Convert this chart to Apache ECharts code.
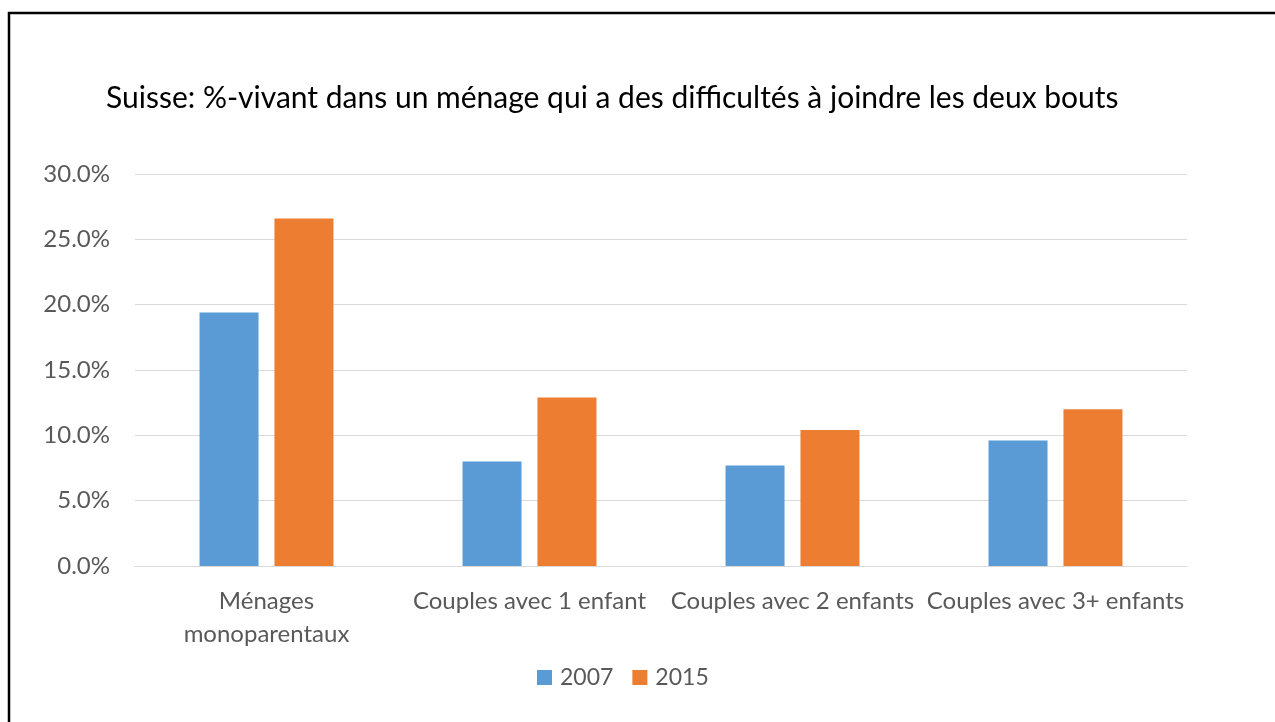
<!DOCTYPE html>
<html><head><meta charset="utf-8">
<script src="https://cdn.jsdelivr.net/npm/echarts@6/dist/echarts.min.js"></script>
<style>html,body{margin:0;padding:0;background:#fff}#c{width:1275px;height:722px}</style>
</head><body><div id="c"></div>
<script>
const titleText = 'Suisse: %-vivant dans un ménage qui a des difficultés à joindre les deux bouts';
const categories = ['Ménages\nmonoparentaux', 'Couples avec 1 enfant', 'Couples avec 2 enfants', 'Couples avec 3+ enfants'];
const seriesNames = ['2007', '2015'];
const values2007 = [19.4, 8.0, 7.7, 9.6];
const values2015 = [26.6, 12.9, 10.4, 12.0];
const yTicks = [0, 5, 10, 15, 20, 25, 30];

const FONT = 'Lato, "Open Sans", sans-serif';
const chart = echarts.init(document.getElementById('c'), null, {renderer: 'canvas'});
chart.setOption({
  animation: false,
  backgroundColor: '#fff',
  graphic: [{
    type: 'rect', shape: {x: 9, y: 13, width: 1275, height: 730},
    style: {fill: 'none', stroke: '#000', lineWidth: 2.5}, silent: true
  }],
  title: {
    text: titleText, left: 101, top: 78,
    textStyle: {fontFamily: FONT, fontSize: 30, fontWeight: 'normal', color: '#000'}
  },
  legend: {
    data: seriesNames, top: 661, left: 532, itemWidth: 15, itemHeight: 15, itemGap: 19,
    icon: 'rect',
    textStyle: {fontFamily: FONT, fontSize: 23, color: '#595959', padding: [0, 0, 0, 3]}
  },
  grid: {left: 135, right: 88, top: 174, bottom: 156},
  xAxis: {
    type: 'category', data: categories,
    axisLine: {lineStyle: {color: '#d9d9d9', width: 1}},
    axisTick: {show: false},
    axisLabel: {fontFamily: FONT, fontSize: 24, color: '#595959', margin: 19, lineHeight: 33, interval: 0}
  },
  yAxis: {
    type: 'value', min: yTicks[0], max: yTicks[yTicks.length - 1], interval: 5,
    axisLine: {show: false}, axisTick: {show: false},
    splitLine: {lineStyle: {color: '#d9d9d9', width: 1}},
    axisLabel: {fontFamily: FONT, fontSize: 24, color: '#595959', margin: 25,
      formatter: v => v.toFixed(1) + '%'}
  },
  series: [
    {name: seriesNames[0], type: 'bar', data: values2007, barWidth: 59, barGap: '27%',
     itemStyle: {color: '#5b9bd5'}},
    {name: seriesNames[1], type: 'bar', data: values2015, barWidth: 59,
     itemStyle: {color: '#ed7d31'}}
  ]
});
</script></body></html>
